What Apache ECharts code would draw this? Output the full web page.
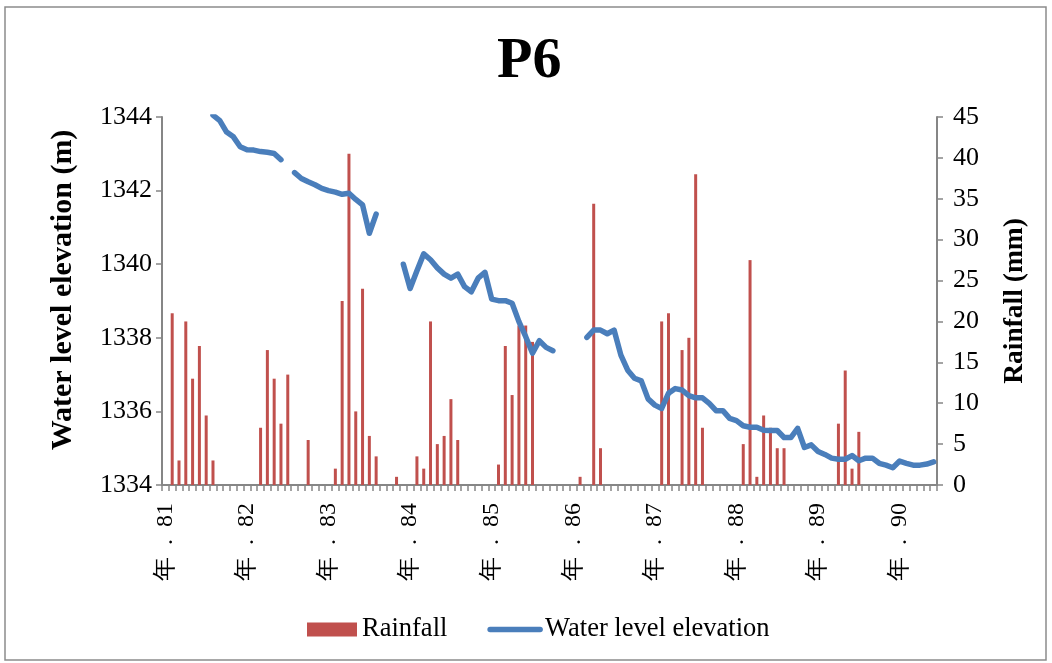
<!DOCTYPE html>
<html>
<head>
<meta charset="utf-8">
<script src="https://cdn.jsdelivr.net/npm/echarts@6/dist/echarts.min.js"></script>
<style>
  html, body { margin: 0; padding: 0; background: #fff; }
  #chart { width: 1052px; height: 663px; }
</style>
</head>
<body>
<div id="chart"></div>
<script>
// Monthly record, year 81 January (index 0) through year 90 June (index 113)
const yearLabels = ['81', '82', '83', '84', '85', '86', '87', '88', '89', '90'];
const monthCount = 114;

// Monthly rainfall (mm), non-zero months only: [monthIndex, value]
const rainfallEntries = [
  [1, 21], [2, 3], [3, 20], [4, 13], [5, 17], [6, 8.5], [7, 3],
  [14, 7], [15, 16.5], [16, 13], [17, 7.5], [18, 13.5], [21, 5.5],
  [25, 2], [26, 22.5], [27, 40.5], [28, 9], [29, 24], [30, 6], [31, 3.5], [34, 1],
  [37, 3.5], [38, 2], [39, 20], [40, 5], [41, 6], [42, 10.5], [43, 5.5],
  [49, 2.5], [50, 17], [51, 11], [52, 19.5], [53, 19.5], [54, 17.5],
  [61, 1], [63, 34.4], [64, 4.5],
  [73, 20], [74, 21], [76, 16.5], [77, 18], [78, 38], [79, 7],
  [85, 5], [86, 27.5], [87, 1], [88, 8.5], [89, 7], [90, 4.5], [91, 4.5],
  [99, 7.5], [100, 14], [101, 2], [102, 6.5]
];

// Monthly water level elevation (m); null = no reading
const waterLevel = [
  null, null, null, null, null, null, null, 1344.05, 1343.9, 1343.59,
  1343.46, 1343.19, 1343.11, 1343.10, 1343.06, 1343.04, 1343.01, 1342.84, null, 1342.49,
  1342.33, 1342.24, 1342.16, 1342.06, 1342.00, 1341.96, 1341.90, 1341.93, 1341.76, 1341.61,
  1340.84, 1341.36, null, null, null, 1340.00, 1339.34, 1339.82, 1340.28, 1340.12,
  1339.90, 1339.73, 1339.62, 1339.73, 1339.39, 1339.25, 1339.62, 1339.78, 1339.05, 1339.01,
  1339.01, 1338.94, 1338.44, 1338.03, 1337.58, 1337.92, 1337.74, 1337.65, null, null,
  null, null, 1338.01, 1338.21, 1338.21, 1338.11, 1338.21, 1337.53, 1337.12, 1336.90,
  1336.83, 1336.34, 1336.17, 1336.08, 1336.49, 1336.62, 1336.58, 1336.43, 1336.37, 1336.37,
  1336.22, 1336.02, 1336.02, 1335.81, 1335.75, 1335.61, 1335.57, 1335.57, 1335.49, 1335.48,
  1335.48, 1335.29, 1335.29, 1335.54, 1335.02, 1335.09, 1334.91, 1334.83, 1334.73, 1334.70,
  1334.70, 1334.80, 1334.66, 1334.73, 1334.73, 1334.59, 1334.54, 1334.47, 1334.65, 1334.59,
  1334.54, 1334.54, 1334.57, 1334.63
];

// Category labels: one per month, the year shown on each January
const categories = [];
for (let i = 0; i < monthCount; i++) {
  categories.push(i % 12 === 0 ? '年  .  ' + yearLabels[i / 12] : '');
}
const rainfall = new Array(monthCount).fill(0);
rainfallEntries.forEach(([i, v]) => { rainfall[i] = v; });

const serif = '"Liberation Serif", "Times New Roman", serif';
const axisGray = '#868686';
const waterBlue = '#4a7ebb';

const chart = echarts.init(document.getElementById('chart'), null, { renderer: 'canvas' });
chart.setOption({
  backgroundColor: '#ffffff',
  animation: false,
  textStyle: { fontFamily: serif, color: '#000' },
  graphic: [{
    type: 'rect',
    shape: { x: 5, y: 7, width: 1041, height: 653 },
    style: { fill: 'none', stroke: '#8c8c8c', lineWidth: 1.5 },
    silent: true
  }],
  title: {
    text: 'P6',
    left: 492,
    top: 28,
    textStyle: { fontFamily: serif, fontSize: 58, fontWeight: 'bold', color: '#000' }
  },
  legend: {
    left: 302,
    top: 611,
    itemWidth: 50,
    itemHeight: 14,
    itemGap: 40,
    textStyle: { fontFamily: serif, fontSize: 26.5, color: '#000' },
    data: [
      { name: 'Rainfall', icon: 'rect' },
      {
        name: 'Water level elevation',
        itemStyle: { opacity: 0 },
        lineStyle: { color: waterBlue, width: 5.5, cap: 'round' }
      }
    ]
  },
  grid: { left: 162, right: 115, top: 117, bottom: 178, containLabel: false },
  xAxis: {
    type: 'category',
    data: categories,
    boundaryGap: true,
    axisLine: { lineStyle: { color: axisGray, width: 2 } },
    axisTick: { show: true, interval: 0, length: 6, lineStyle: { color: axisGray, width: 1.5 } },
    axisLabel: {
      interval: 11,
      rotate: 90,
      margin: 18,
      fontFamily: serif,
      fontSize: 24,
      color: '#000'
    },
    splitLine: { show: false }
  },
  yAxis: [
    {
      type: 'value',
      name: 'Water level elevation (m)',
      nameLocation: 'middle',
      nameGap: 84,
      nameRotate: 90,
      nameTextStyle: {
        fontFamily: serif, fontSize: 30, fontWeight: 'bold', color: '#000',
        padding: [0, 0, 0, 22]
      },
      min: 1334,
      max: 1344,
      interval: 2,
      position: 'left',
      axisLine: { show: true, lineStyle: { color: axisGray, width: 2 } },
      axisTick: { show: true, length: 6, lineStyle: { color: axisGray, width: 1.5 } },
      axisLabel: { fontFamily: serif, fontSize: 26, color: '#000', margin: 10, formatter: v => String(v) },
      splitLine: { show: false }
    },
    {
      type: 'value',
      name: 'Rainfall (mm)',
      nameLocation: 'middle',
      nameGap: 64,
      nameRotate: 90,
      nameTextStyle: { fontFamily: serif, fontSize: 27.5, fontWeight: 'bold', color: '#000' },
      min: 0,
      max: 45,
      interval: 5,
      position: 'right',
      axisLine: { show: true, lineStyle: { color: axisGray, width: 2 } },
      axisTick: { show: true, length: 6, lineStyle: { color: axisGray, width: 1.5 } },
      axisLabel: { fontFamily: serif, fontSize: 26, color: '#000', margin: 16 },
      splitLine: { show: false }
    }
  ],
  series: [
    {
      name: 'Rainfall',
      type: 'bar',
      yAxisIndex: 1,
      data: rainfall,
      barWidth: 3,
      itemStyle: { color: '#c0504d' }
    },
    {
      name: 'Water level elevation',
      type: 'line',
      yAxisIndex: 0,
      data: waterLevel,
      symbol: 'none',
      connectNulls: false,
      clip: true,
      lineStyle: { color: waterBlue, width: 5.5, cap: 'round', join: 'round' },
      itemStyle: { color: waterBlue }
    }
  ]
});
</script>
</body>
</html>
